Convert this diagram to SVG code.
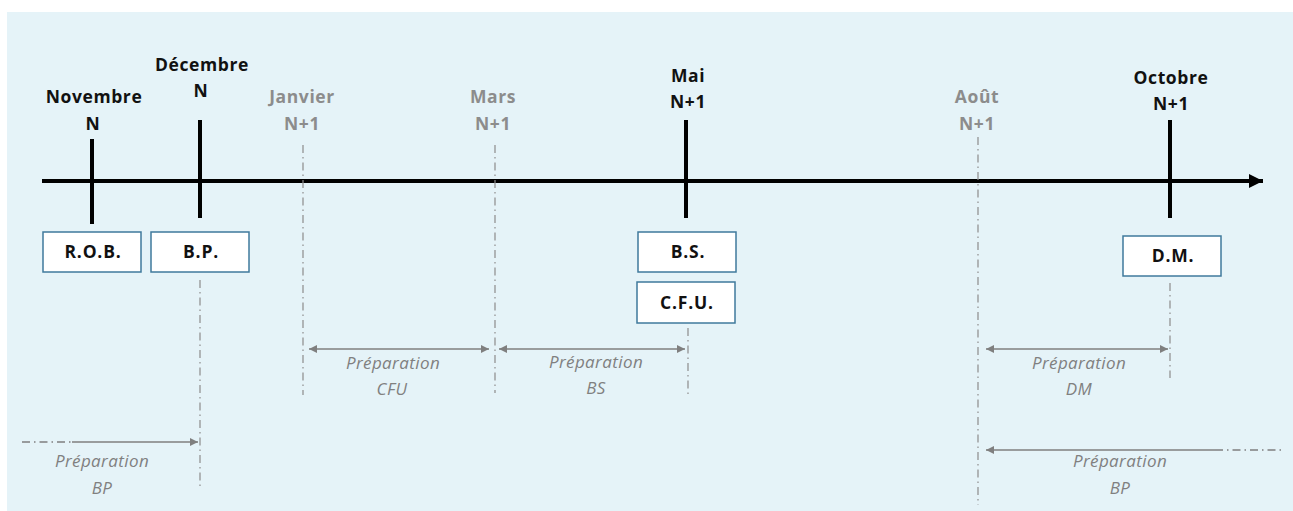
<svg xmlns="http://www.w3.org/2000/svg" width="1293" height="511" viewBox="0 0 1293 511">
<defs>
<style>
.bg{fill:#e5f3f8}
.lbl{font-family:"Open Sans","Liberation Sans",sans-serif;font-weight:bold;font-size:17.5px;letter-spacing:0.6px;text-anchor:middle}
.dark{fill:#111}
.grey{fill:#8c8c8c}
.tick{stroke:#000;stroke-width:4}
.dash{stroke:#8c8c8c;stroke-width:1.2;stroke-dasharray:8,4,1.5,4;fill:none}
.box{fill:#fff;stroke:#3f7a9c;stroke-width:1.5}
.btxt{font-family:"Open Sans","Liberation Sans",sans-serif;font-weight:bold;font-size:17.5px;letter-spacing:0.8px;text-anchor:middle;fill:#111}
.arr{stroke:#7f7f7f;stroke-width:1.6;fill:none}
.itxt{font-family:"Open Sans","Liberation Sans",sans-serif;font-style:italic;font-size:17px;letter-spacing:0.4px;text-anchor:middle;fill:#808080}
</style>
<marker id="ah" viewBox="0 0 10 10" refX="10" refY="5" markerWidth="6" markerHeight="5" orient="auto-start-reverse" markerUnits="strokeWidth"><path d="M0,0 L10,5 L0,10 z" fill="#7f7f7f"/></marker>
<marker id="axh" viewBox="0 0 10 10" refX="10" refY="5" markerWidth="3.5" markerHeight="3.5" orient="auto" markerUnits="strokeWidth"><path d="M0,0 L10,5 L0,10 z" fill="#000"/></marker>
</defs>
<rect class="bg" x="7" y="12" width="1286" height="499"/>

<g id="connectors">
<line x1="42" y1="181" x2="1263" y2="181" stroke="#000" stroke-width="4" marker-end="url(#axh)"/>
<line class="dash" x1="303" y1="145" x2="303" y2="395"/>
<line class="dash" x1="495" y1="145" x2="495" y2="393"/>
<line class="dash" x1="978" y1="137" x2="978" y2="505"/>
<line class="dash" x1="200" y1="280" x2="200" y2="490"/>
<line class="dash" x1="688" y1="328" x2="688" y2="395"/>
<line class="dash" x1="1170" y1="283" x2="1170" y2="378"/>
<line class="arr" x1="309" y1="349" x2="489" y2="349" marker-start="url(#ah)" marker-end="url(#ah)"/>
<line class="arr" x1="499" y1="349" x2="685" y2="349" marker-start="url(#ah)" marker-end="url(#ah)"/>
<line class="arr" x1="986" y1="349" x2="1168" y2="349" marker-start="url(#ah)" marker-end="url(#ah)"/>
<line class="dash" x1="22" y1="442" x2="72" y2="442" style="stroke:#7f7f7f;stroke-width:1.6"/>
<line class="arr" x1="72" y1="442" x2="198" y2="442" marker-end="url(#ah)"/>
<line class="arr" x1="1215" y1="450" x2="986" y2="450" marker-end="url(#ah)"/>
<line class="dash" x1="1215" y1="450" x2="1284" y2="450" style="stroke:#7f7f7f;stroke-width:1.6"/>
</g>

<g id="novembre">
<line class="tick" x1="92" y1="139" x2="92" y2="224"/>
<text class="lbl dark" x="94" y="103">Novembre</text>
<text class="lbl dark" x="93" y="130">N</text>
</g>
<g id="decembre">
<line class="tick" x1="200" y1="120" x2="200" y2="218"/>
<text class="lbl dark" x="202" y="71">Décembre</text>
<text class="lbl dark" x="201" y="97">N</text>
</g>
<g id="janvier">
<text class="lbl grey" x="302" y="103">Janvier</text>
<text class="lbl grey" x="302" y="130">N+1</text>
</g>
<g id="mars">
<text class="lbl grey" x="493" y="103">Mars</text>
<text class="lbl grey" x="493" y="130">N+1</text>
</g>
<g id="mai">
<line class="tick" x1="686" y1="120" x2="686" y2="218"/>
<text class="lbl dark" x="688" y="82">Mai</text>
<text class="lbl dark" x="688" y="108">N+1</text>
</g>
<g id="aout">
<text class="lbl grey" x="977" y="103">Août</text>
<text class="lbl grey" x="977" y="130">N+1</text>
</g>
<g id="octobre">
<line class="tick" x1="1170" y1="120" x2="1170" y2="218"/>
<text class="lbl dark" x="1171" y="84">Octobre</text>
<text class="lbl dark" x="1171" y="110">N+1</text>
</g>

<g id="rob"><rect class="box" x="43" y="232" width="98" height="40"/><text class="btxt" x="93" y="258">R.O.B.</text></g>
<g id="bp"><rect class="box" x="151" y="232" width="98" height="40"/><text class="btxt" x="201" y="258">B.P.</text></g>
<g id="bs"><rect class="box" x="638" y="232" width="98" height="40"/><text class="btxt" x="688" y="258">B.S.</text></g>
<g id="cfu"><rect class="box" x="637" y="282" width="98" height="41"/><text class="btxt" x="687" y="309">C.F.U.</text></g>
<g id="dm"><rect class="box" x="1123" y="236" width="98" height="40"/><text class="btxt" x="1173" y="262">D.M.</text></g>

<g id="prep-cfu"><text class="itxt" x="393" y="369">Préparation</text><text class="itxt" x="392" y="395">CFU</text></g>
<g id="prep-bs"><text class="itxt" x="596" y="368">Préparation</text><text class="itxt" x="596" y="394">BS</text></g>
<g id="prep-dm"><text class="itxt" x="1079" y="369">Préparation</text><text class="itxt" x="1079" y="395">DM</text></g>
<g id="prep-bp1"><text class="itxt" x="102" y="467">Préparation</text><text class="itxt" x="102" y="494">BP</text></g>
<g id="prep-bp2"><text class="itxt" x="1120" y="467">Préparation</text><text class="itxt" x="1120" y="494">BP</text></g>
</svg>
